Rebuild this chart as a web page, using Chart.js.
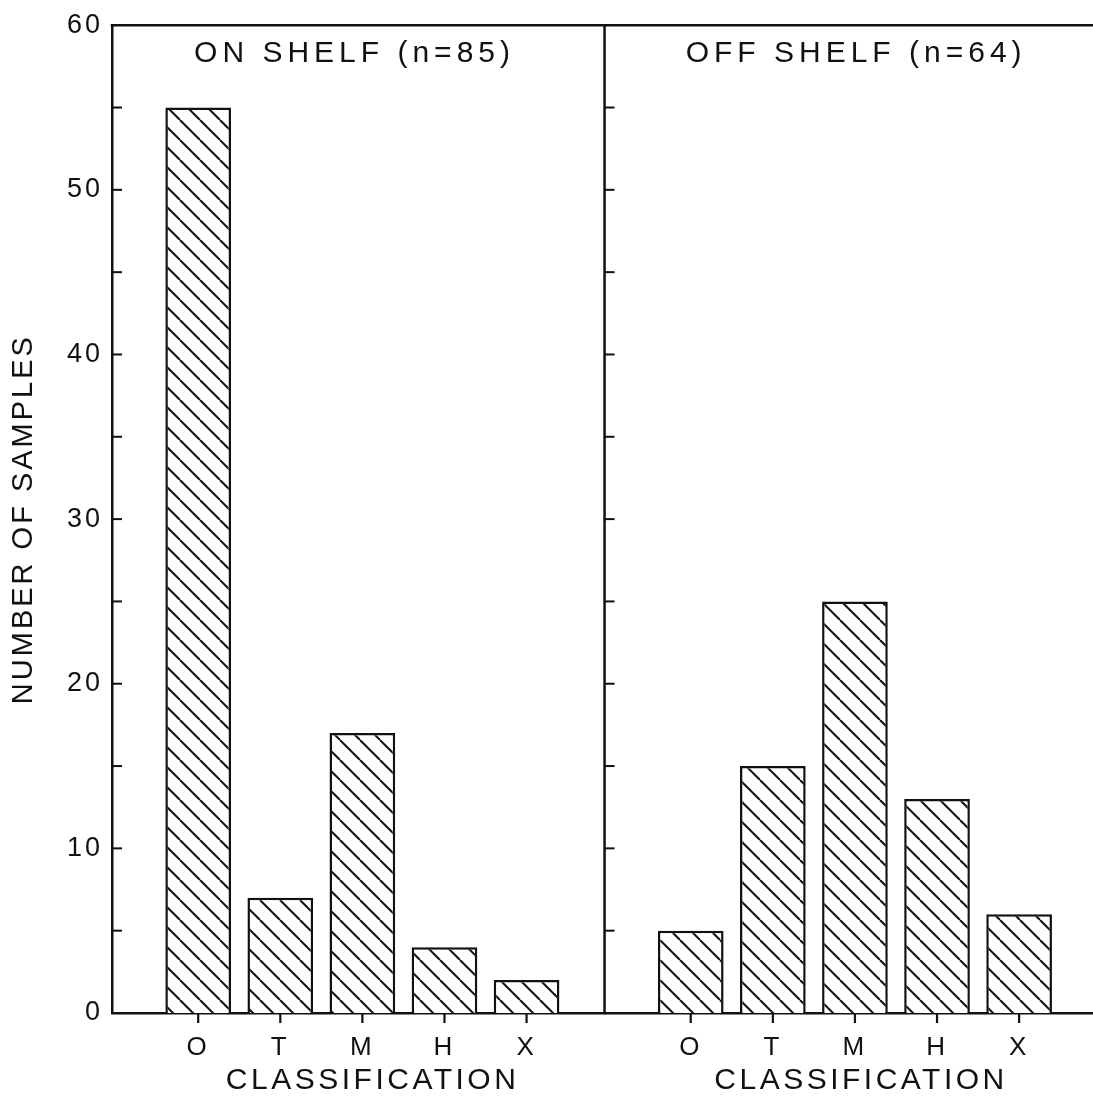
<!DOCTYPE html>
<html>
<head>
<meta charset="utf-8">
<script src="https://cdn.jsdelivr.net/npm/chart.js@4.4.0/dist/chart.umd.min.js"></script>
<style>
  html, body { margin: 0; padding: 0; background: #fff; }
  #wrap { width: 1093px; height: 1101px; }
</style>
</head>
<body>
<div id="wrap"><canvas id="c" width="1093" height="1101"></canvas></div>
<script>
// ---- data ----
const categories = ['O', 'T', 'M', 'H', 'X'];
const onShelfCounts = [55, 7, 17, 4, 2];
const offShelfCounts = [5, 15, 25, 13, 6];
const onShelfPositions = [1, 2, 3, 4, 5];
const offShelfPositions = [7, 8, 9, 10, 11];
const yTickValues = [0, 10, 20, 30, 40, 50, 60];
const yMinorTicks = [5, 10, 15, 20, 25, 30, 35, 40, 45, 50, 55];
const panelTitles = ['ON SHELF (n=85)', 'OFF SHELF (n=64)'];
const xAxisTitle = 'CLASSIFICATION';
const yAxisTitle = 'NUMBER OF SAMPLES';

// ---- layout constants ----
const FONT = '"Liberation Sans", Arial, Helvetica, sans-serif';
const INK = '#111';
const dividerValue = 5.95;
const panelTitlePos = [2.88, 8.99];
const panelXTitlePos = [3.1, 9.05];

function makeHatch() {
  const s = 20;
  const c = document.createElement('canvas');
  c.width = s; c.height = s;
  const g = c.getContext('2d');
  g.fillStyle = '#fff';
  g.fillRect(0, 0, s, s);
  g.strokeStyle = INK;
  g.lineWidth = 2;
  for (const k of [-1, 0, 1]) {
    g.beginPath();
    g.moveTo(k * s, 0);
    g.lineTo(k * s + s, s);
    g.stroke();
  }
  return document.getElementById('c').getContext('2d').createPattern(c, 'repeat');
}
const hatch = makeHatch();

const allPositions = onShelfPositions.concat(offShelfPositions);
const labelFor = v => {
  let i = onShelfPositions.indexOf(v);
  if (i < 0) i = offShelfPositions.indexOf(v);
  return i >= 0 ? categories[i] : '';
};

const framePlugin = {
  id: 'frame',
  beforeDraw(chart) {
    chart.ctx.letterSpacing = '3px';
  },
  afterDraw(chart) {
    const { ctx, chartArea: a, scales: { x, y } } = chart;
    ctx.save();
    ctx.strokeStyle = INK;
    ctx.fillStyle = INK;
    ctx.lineCap = 'square';
    ctx.lineWidth = 2.5;
    ctx.beginPath();
    ctx.moveTo(a.left, a.top);
    ctx.lineTo(a.right, a.top);
    ctx.stroke();
    const dx = x.getPixelForValue(dividerValue);
    ctx.beginPath();
    ctx.moveTo(dx, a.top);
    ctx.lineTo(dx, a.bottom);
    ctx.stroke();
    ctx.lineWidth = 2;
    ctx.lineCap = 'butt';
    // inward y ticks on left axis and on the panel divider
    for (const v of yMinorTicks) {
      const py = y.getPixelForValue(v);
      for (const px of [a.left, dx]) {
        ctx.beginPath();
        ctx.moveTo(px, py);
        ctx.lineTo(px + 10, py);
        ctx.stroke();
      }
    }
    // downward x ticks at category centres
    ctx.lineWidth = 2.2;
    for (const v of allPositions) {
      const px = x.getPixelForValue(v);
      ctx.beginPath();
      ctx.moveTo(px, a.bottom);
      ctx.lineTo(px, a.bottom + 10);
      ctx.stroke();
    }
    ctx.textAlign = 'center';
    ctx.textBaseline = 'middle';
    ctx.font = '30px ' + FONT;
    ctx.letterSpacing = '5px';
    panelTitles.forEach((t, i) => {
      ctx.fillText(t, x.getPixelForValue(panelTitlePos[i]) + 2, a.top + 29);
    });
    ctx.letterSpacing = '3.5px';
    panelXTitlePos.forEach(p => {
      ctx.fillText(xAxisTitle, x.getPixelForValue(p) + 2, a.bottom + 68);
    });
    ctx.restore();
  }
};

new Chart(document.getElementById('c'), {
  type: 'bar',
  data: {
    datasets: [
      {
        label: panelTitles[0],
        data: onShelfCounts.map((v, i) => ({ x: onShelfPositions[i], y: v })),
        backgroundColor: hatch,
        borderColor: INK,
        borderWidth: 2.5,
        grouped: false
      },
      {
        label: panelTitles[1],
        data: offShelfCounts.map((v, i) => ({ x: offShelfPositions[i], y: v })),
        backgroundColor: hatch,
        borderColor: INK,
        borderWidth: 2.5,
        grouped: false
      }
    ]
  },
  options: {
    responsive: false,
    animation: false,
    devicePixelRatio: 1,
    barPercentage: 0.8,
    categoryPercentage: 1.0,
    layout: { padding: { top: 25, right: 0, bottom: 0, left: 0 } },
    plugins: { legend: { display: false }, tooltip: { enabled: false }, title: { display: false } },
    scales: {
      x: {
        type: 'linear',
        offset: false,
        min: -0.05,
        max: 11.9,
        afterBuildTicks: s => { s.ticks = allPositions.map(v => ({ value: v })); },
        afterFit: s => { s.height = 88; },
        ticks: {
          autoSkip: false,
          maxRotation: 0,
          padding: 19,
          color: INK,
          font: { family: FONT, size: 26 },
          callback: v => labelFor(v)
        },
        grid: { display: false, offset: false, drawOnChartArea: false, drawTicks: false },
        border: { display: true, color: INK, width: 2.5 }
      },
      y: {
        min: 0,
        max: 60,
        afterBuildTicks: s => { s.ticks = yTickValues.map(v => ({ value: v })); },
        afterFit: s => { s.width = 112; },
        ticks: {
          padding: 9,
          color: INK,
          font: { family: FONT, size: 27 }
        },
        grid: { display: false, drawTicks: false },
        border: { display: true, color: INK, width: 2.5 },
        title: {
          display: true,
          text: yAxisTitle,
          color: INK,
          font: { family: FONT, size: 29 },
          padding: { top: 7, bottom: 0 }
        }
      }
    }
  },
  plugins: [framePlugin]
});
</script>
</body>
</html>
